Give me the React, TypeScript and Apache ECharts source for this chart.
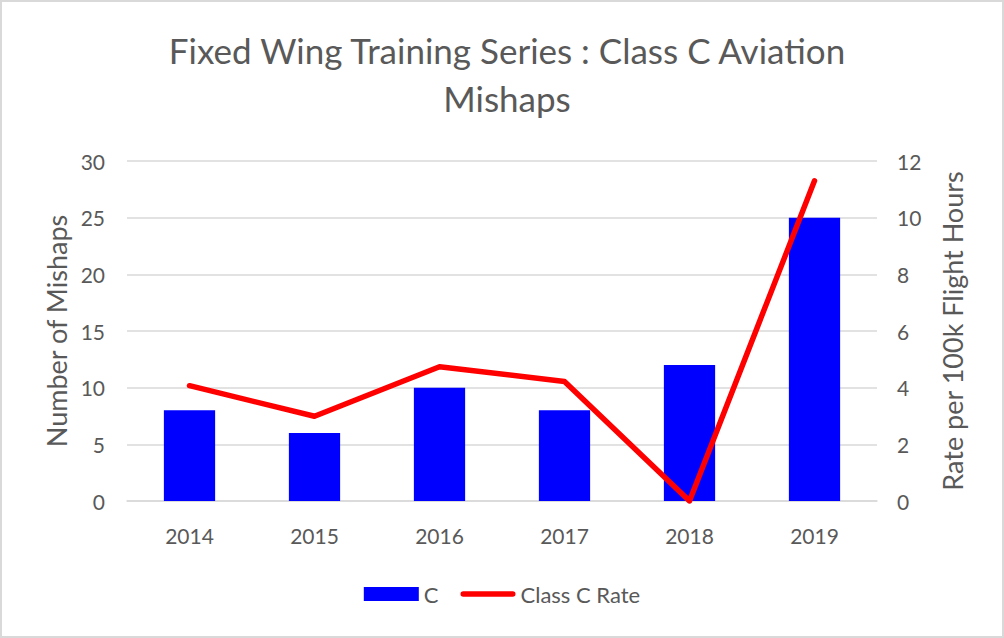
import React, { useEffect, useRef } from "react";
import * as echarts from "echarts";

const categories = ["2014", "2015", "2016", "2017", "2018", "2019"];
const mishapCounts = [8, 6, 10, 8, 12, 25];
const classCRate = [4.07, 2.99, 4.74, 4.22, 0, 11.3];
const leftTicks = { min: 0, max: 30, interval: 5 };
const rightTicks = { min: 0, max: 12, interval: 2 };

const FONT = "Lato";
const GRAY = "#595959";

export default function App() {
  const ref = useRef<HTMLDivElement>(null);
  useEffect(() => {
    document.body.style.margin = "0";
    if (!ref.current) return;
    const chart = echarts.init(ref.current, undefined, { renderer: "svg" });
    chart.setOption({
      animation: false,
      backgroundColor: "#ffffff",
      textStyle: { fontFamily: FONT, color: GRAY },
      title: {
        text: "Fixed Wing Training Series : Class C Aviation\nMishaps",
        left: 500,
        top: 19,
        textAlign: "center",
        textStyle: { fontFamily: FONT, fontSize: 35, fontWeight: "normal", color: GRAY, lineHeight: 48 },
      },
      grid: { left: 125, right: 125, top: 159, bottom: 135 },
      legend: {
        top: 576,
        left: "center",
        itemWidth: 55,
        itemHeight: 14,
        itemGap: 22,
        textStyle: { fontFamily: FONT, fontSize: 22, color: GRAY },
        data: [
          { name: "C", icon: "rect" },
          { name: "Class C Rate", icon: "path://M3,0 L57,0 A3,3 0 0 1 57,6 L3,6 A3,3 0 0 1 3,0 Z" },
        ],
      },
      xAxis: {
        type: "category",
        data: categories,
        axisLine: { lineStyle: { color: "#d9d9d9", width: 1.5 } },
        axisTick: { show: false },
        axisLabel: { fontFamily: FONT, fontSize: 21, color: GRAY, margin: 24 },
      },
      yAxis: [
        {
          type: "value",
          ...leftTicks,
          name: "Number of Mishaps",
          nameLocation: "middle",
          nameRotate: 90,
          nameGap: 57,
          nameTextStyle: { fontFamily: FONT, fontSize: 27, color: GRAY },
          axisLine: { show: false },
          axisTick: { show: false },
          axisLabel: { fontFamily: FONT, fontSize: 21, color: GRAY, margin: 22 },
          splitLine: { lineStyle: { color: "#d9d9d9", width: 1.5 } },
        },
        {
          type: "value",
          ...rightTicks,
          name: "Rate per 100k Flight Hours",
          nameLocation: "middle",
          nameRotate: 90,
          nameGap: 62,
          nameTextStyle: { fontFamily: FONT, fontSize: 27, color: GRAY },
          axisLine: { show: false },
          axisTick: { show: false },
          axisLabel: { fontFamily: FONT, fontSize: 21, color: GRAY, margin: 20 },
          splitLine: { show: false },
        },
      ],
      series: [
        {
          name: "C",
          type: "bar",
          data: mishapCounts,
          barWidth: "41%",
          itemStyle: { color: "#0000FF" },
          yAxisIndex: 0,
        },
        {
          name: "Class C Rate",
          type: "line",
          data: classCRate,
          yAxisIndex: 1,
          symbol: "none",
          lineStyle: { color: "#FF0000", width: 5.5, cap: "round", join: "round" },
          itemStyle: { color: "#FF0000" },
        },
      ],
    });
    return () => chart.dispose();
  }, []);
  return (
    <div
      style={{
        width: 1004,
        height: 638,
        boxSizing: "border-box",
        border: "2px solid #d9d9d9",
        background: "#fff",
      }}
    >
      <div ref={ref} style={{ width: 1000, height: 634 }} />
    </div>
  );
}
